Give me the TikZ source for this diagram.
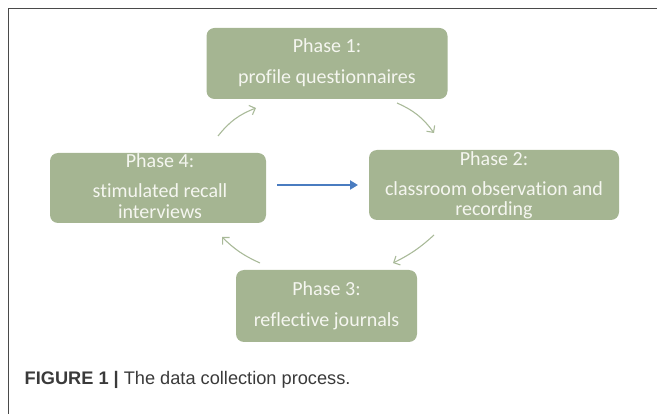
\documentclass[tikz,border=0pt]{standalone}
\usepackage{fontspec}
\setmainfont{Carlito}[Ligatures=CommonOff]
\newfontfamily\capfont{Liberation Sans}
\usetikzlibrary{arrows.meta}
\definecolor{boxgreen}{HTML}{A5B592}
\definecolor{arrowgreen}{HTML}{A9BA99}
\definecolor{boxtext}{HTML}{F5F6F0}
\definecolor{bluearrow}{HTML}{4A7CC0}
\definecolor{framegray}{HTML}{4A4A4A}
\definecolor{captext}{HTML}{3A3A3A}
\tikzset{
  phasebox/.style={fill=boxgreen, draw=none, rounded corners=8pt, inner sep=0pt},
  phasetext/.style={text=boxtext, font=\fontsize{20}{24}\selectfont, anchor=base, inner sep=0pt},
  cyclearrow/.style={draw=arrowgreen, line width=1.1pt, -{Straight Barb[length=5pt,width=10pt]}},
  mainarrow/.style={draw=bluearrow, line width=2.4pt, -{Triangle[length=8pt,width=9pt]}},
  framerule/.style={draw=framegray, line width=1.3pt}
}
\begin{document}
\begin{tikzpicture}[x=1pt,y=-1pt]
\useasboundingbox (0,0) rectangle (657,414);
% frame
\coordinate (fr1) at (657,8.5);
\coordinate (fr2) at (8.5,8.5);
\coordinate (fr3) at (8.5,414);
\draw[framerule] (fr1) -- (fr2) -- (fr3);
% boxes
\node[phasebox, minimum width=241pt, minimum height=71pt] (p1) at (327,63.5) {};
\node[phasebox, minimum width=250pt, minimum height=70pt] (p2) at (494,185) {};
\node[phasebox, minimum width=181pt, minimum height=72pt] (p3) at (326.5,306) {};
\node[phasebox, minimum width=216pt, minimum height=70pt] (p4) at (158,188) {};
% texts
\node[phasetext] (t1a) at (327,53) {Phase 1:};
\node[phasetext] (t1b) at (327,84) {profile questionnaires};
\node[phasetext] (t2a) at (494,166) {Phase 2:};
\node[phasetext] (t2b) at (494,196) {classroom observation and};
\node[phasetext] (t2c) at (494,216) {recording};
\node[phasetext] (t3a) at (326.5,296) {Phase 3:};
\node[phasetext] (t3b) at (326.5,327) {reflective journals};
\node[phasetext] (t4a) at (160,168) {Phase 4:};
\node[phasetext] (t4b) at (160,198) {stimulated recall};
\node[phasetext] (t4c) at (160,219) {interviews};
% cycle arrows
\coordinate (a41s) at (218,136);
\coordinate (a41e) at (256,108);
\coordinate (a12s) at (397,103);
\coordinate (a12e) at (434,133);
\coordinate (a23s) at (434,235);
\coordinate (a23e) at (393,263);
\coordinate (a34s) at (260,263);
\coordinate (a34e) at (222,237);
\draw[cyclearrow] (a41s) to[bend left=15] (a41e);
\draw[cyclearrow] (a12s) to[bend left=15] (a12e);
\draw[cyclearrow] (a23s) to[bend left=8] (a23e);
\draw[cyclearrow] (a34s) to[bend left=10] (a34e);
% main arrow
\coordinate (b1) at (277,185);
\coordinate (b2) at (358,185);
\draw[mainarrow] (b1) -- (b2);
% caption
\node[anchor=base west, inner sep=0pt, text=captext, font=\capfont\fontsize{18.2}{21}\selectfont] (cap) at (24.5,385) {\textbf{FIGURE 1 |} The data collection process.};
\end{tikzpicture}
\end{document}
